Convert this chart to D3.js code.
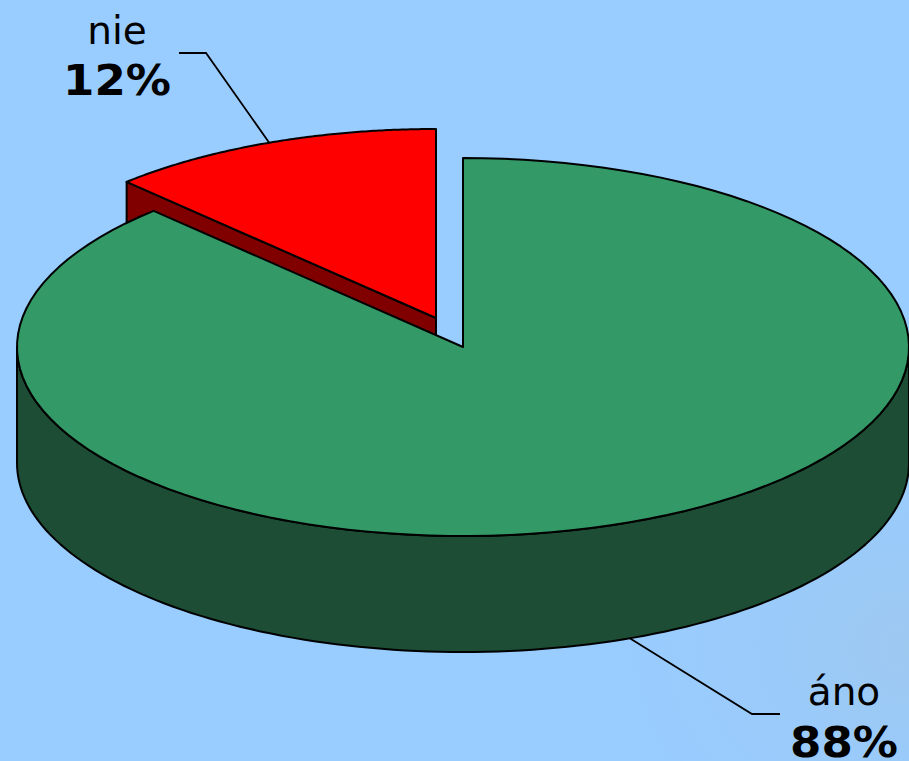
<!DOCTYPE html>
<html><head><meta charset="utf-8">
<script src="https://cdnjs.cloudflare.com/ajax/libs/d3/7.8.5/d3.min.js"></script>
<style>html,body{margin:0;padding:0;background:#99CCFF;overflow:hidden}svg{display:block}text{font-family:"DejaVu Sans",sans-serif;fill:#000}</style>
</head><body><script>
const categories = ["áno", "nie"];
const values = [87.8, 12.2];
const percentLabels = ["88%", "12%"];
const topColors = ["#339966", "#FF0000"];
const sideColors = ["#1D4D35", "#800000"];

const W = 909, H = 761;
const svg = d3.select("body").append("svg").attr("width", W).attr("height", H);
const defs = svg.append("defs");
const g1 = defs.append("radialGradient").attr("id","shade").attr("cx","100%").attr("cy","85%").attr("r","38%");
g1.append("stop").attr("offset","0%").attr("stop-color","#9EC6EA").attr("stop-opacity",0.75);
g1.append("stop").attr("offset","100%").attr("stop-color","#99CCFF").attr("stop-opacity",0);
svg.append("rect").attr("width",W).attr("height",H).attr("fill","#99CCFF");
svg.append("rect").attr("width",W).attr("height",H).attr("fill","url(#shade)");

const sx = d3.scaleLinear().domain([-1,1]).range([-446,446]);
const sy = d3.scaleLinear().domain([-1,1]).range([-189,189]);
const depth = 116;
const centres = [{x:463,y:347},{x:436,y:318}];

const pie = d3.pie().sort(null).startAngle(0).endAngle(2*Math.PI);
const arcs = pie(values);
const line = d3.line();
const proj = (c,a,dz=0) => [c.x + sx(Math.sin(a)), c.y + sy(-Math.cos(a)) + dz];
const samples = (a0,a1) => d3.range(0,121).map(i => a0 + (a1-a0)*i/120);
const stroke = s => s.attr("stroke","#000").attr("stroke-width",2).attr("stroke-linejoin","round");

[1,0].forEach(i => {
  const a = arcs[i], c = centres[i];
  const g = svg.append("g");
  if (i === 0) {
    const lo = Math.PI/2, hi = 3*Math.PI/2;
    const top = samples(lo,hi).map(t=>proj(c,t));
    const bot = samples(hi,lo).map(t=>proj(c,t,depth));
    stroke(g.append("path").attr("d",line(top.concat(bot))+"Z").attr("fill",sideColors[i]));
  } else {
    const p0 = proj(c,a.startAngle), ctr=[c.x,c.y];
    stroke(g.append("path").attr("d",line([p0,ctr,[c.x,c.y+depth],[p0[0],p0[1]+depth]])+"Z").attr("fill",sideColors[i]));
  }
  const rim = samples(a.startAngle,a.endAngle).map(t=>proj(c,t));
  stroke(g.append("path").attr("d",line([[c.x,c.y],...rim])+"Z").attr("fill",topColors[i]));
});

const labelPos = [
  {tx:844, y1:705, y2:757, elbow:[752,714], end:[780,714], dz:depth},
  {tx:117, y1:44,  y2:95,  elbow:[206,53],  end:[179,53],  dz:0}
];
arcs.forEach((a,i) => {
  const lp = labelPos[i], mid = (a.startAngle+a.endAngle)/2;
  const anchor = proj(centres[i],mid,lp.dz);
  svg.append("path").attr("d",line([anchor,lp.elbow,lp.end])).attr("fill","none").attr("stroke","#000").attr("stroke-width",1.8);
  svg.append("text").attr("x",lp.tx).attr("y",lp.y1).attr("text-anchor","middle").attr("font-size",39).text(categories[i]);
  svg.append("text").attr("x",lp.tx).attr("y",lp.y2).attr("text-anchor","middle").attr("font-size",43).attr("font-weight","bold")
    .attr("textLength",108).attr("lengthAdjust","spacingAndGlyphs").text(percentLabels[i]);
});
</script></body></html>
